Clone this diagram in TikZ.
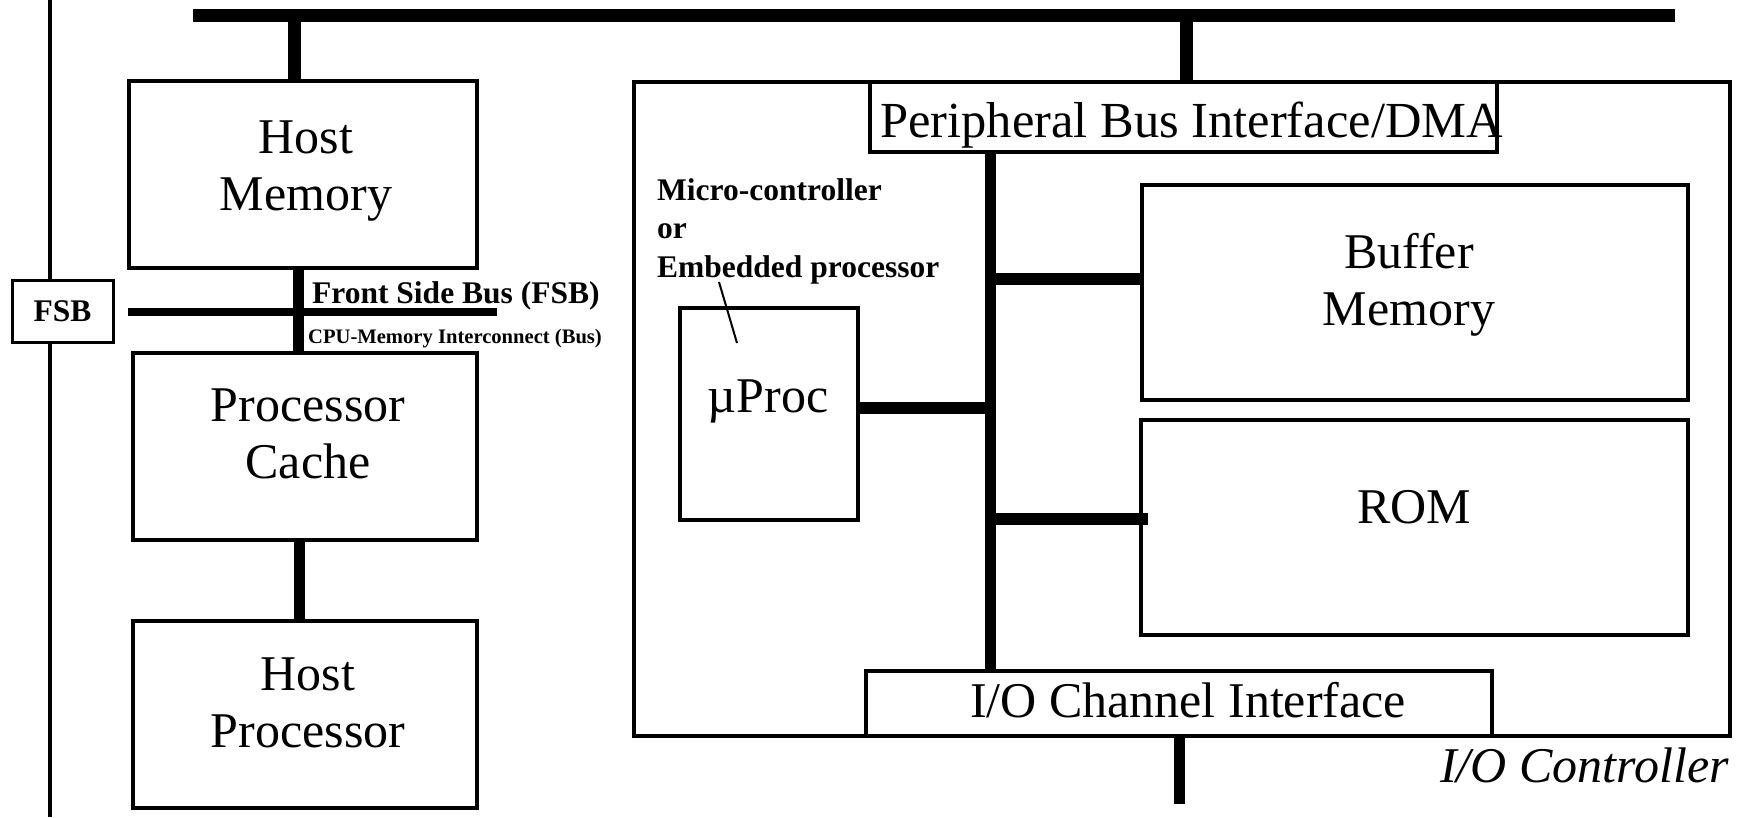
\documentclass[tikz,border=0pt]{standalone}
\usepackage{fontspec}
\setmainfont{Liberation Serif}
\begin{document}
\tikzset{
  box/.style={draw, line width=3.5pt, fill=white, inner sep=0pt},
  big/.style={font=\fontsize{50}{57}\selectfont, inner sep=0pt, align=center},
  lbl/.style={font=\fontsize{31.5}{38.5}\selectfont\bfseries, inner sep=0pt},
  bus/.style={line width=#1, line cap=butt},
}
\begin{tikzpicture}[x=1pt,y=-1pt]
\useasboundingbox (0,0) rectangle (1739,817);

% boxes
\node[box, line width=4.5pt, minimum width=1096pt, minimum height=654pt] (ctrl) at (1182,409) {};
\node[box, minimum width=348pt, minimum height=187pt] (hm) at (303,174.5) {};
\node[box, minimum width=344pt, minimum height=187pt] (pc) at (305,446.5) {};
\node[box, minimum width=344pt, minimum height=187pt] (hp) at (305,714.5) {};
\node[box, line width=3pt, minimum width=101pt, minimum height=62pt, lbl] (fsb) at (62.5,311) {FSB};
\node[box, minimum width=627pt, minimum height=70pt] (pbi) at (1183.5,117) {};
\node[box, minimum width=546pt, minimum height=215pt] (buf) at (1415,292.5) {};
\node[box, minimum width=547pt, minimum height=215pt] (rom) at (1414.5,527.5) {};
\node[box, minimum width=178pt, minimum height=212pt] (up) at (769,414) {};
\node[box, minimum width=626pt, minimum height=65pt] (ioc) at (1179,703.5) {};

% helper coordinates
\coordinate (b1) at (193,15.5);
\coordinate (b2) at (1675,15.5);
\coordinate (bhm) at (294.5,15.5);
\coordinate (bpbi) at (1186,15.5);
\coordinate (cx) at (298.5,0);
\coordinate (cx2) at (299,0);
\coordinate (f1) at (128,312);
\coordinate (f2) at (497,312);
\coordinate (lt) at (50,0);
\coordinate (lb) at (50,817);
\coordinate (ib) at (990,0);
\coordinate (ub) at (0,407.5);
\coordinate (bb) at (0,279);
\coordinate (rb) at (0,519);
\coordinate (rend) at (1148,519);
\coordinate (bot) at (1179,804);
\coordinate (pa) at (719,282);
\coordinate (pb) at (737,343);

% buses and connectors
\draw[bus=13pt] (b1) -- (b2);
\draw[bus=13pt] (bhm) -- (bhm |- hm.north);
\draw[bus=13pt] (bpbi) -- (bpbi |- pbi.north);
\draw[bus=11pt] (hm.south -| cx) -- (pc.north -| cx);
\draw[bus=8pt] (f1) -- (f2);
\draw[bus=11pt] (pc.south -| cx2) -- (hp.north -| cx2);
\draw[bus=4pt] (lt) -- (lt |- fsb.north);
\draw[bus=4pt] (lb) -- (lb |- fsb.south);
\draw[bus=11pt] (pbi.south -| ib) -- (ioc.north -| ib);
\draw[bus=12pt] (up.east |- ub) -- (ib |- ub);
\draw[bus=12pt] (ib |- bb) -- (buf.west |- bb);
\draw[bus=12pt] (ib |- rb) -- (rend);
\draw[bus=11pt] (ioc.south) -- (bot);
\draw[line width=2pt] (pa) -- (pb);

% texts (anchor base = baseline of the last line)
\node[big, anchor=base] (hmt) at (306,210) {Host\\Memory};
\node[big, anchor=base] (pct) at (308,478) {Processor\\Cache};
\node[big, anchor=base] (hpt) at (308,747) {Host\\Processor};
\node[big, anchor=base] (buft) at (1409,325) {Buffer\\Memory};
\node[big, anchor=base] (romt) at (1414,523) {ROM};
\node[big, anchor=base] (upt) at (768,412) {µProc};
\node[big, anchor=base west, font=\fontsize{50.5}{57}\selectfont] (pbit) at (880,137) {Peripheral Bus Interface/DMA};
\node[big, anchor=base] (ioct) at (1188,717) {I/O Channel Interface};
\node[big, anchor=base west, font=\fontsize{50}{57}\selectfont\itshape] (ctrlt) at (1440,782) {I/O Controller};
\node[lbl, anchor=base west] (fsbt) at (312,303) {Front Side Bus (FSB)};
\node[anchor=base west, inner sep=0pt, font=\fontsize{20.6}{25}\selectfont\bfseries] (cput) at (308,343) {CPU-Memory Interconnect (Bus)};
\node[lbl, anchor=base west, align=left] (mct) at (657,277) {Micro-controller\\or\\Embedded processor};
\end{tikzpicture}
\end{document}
